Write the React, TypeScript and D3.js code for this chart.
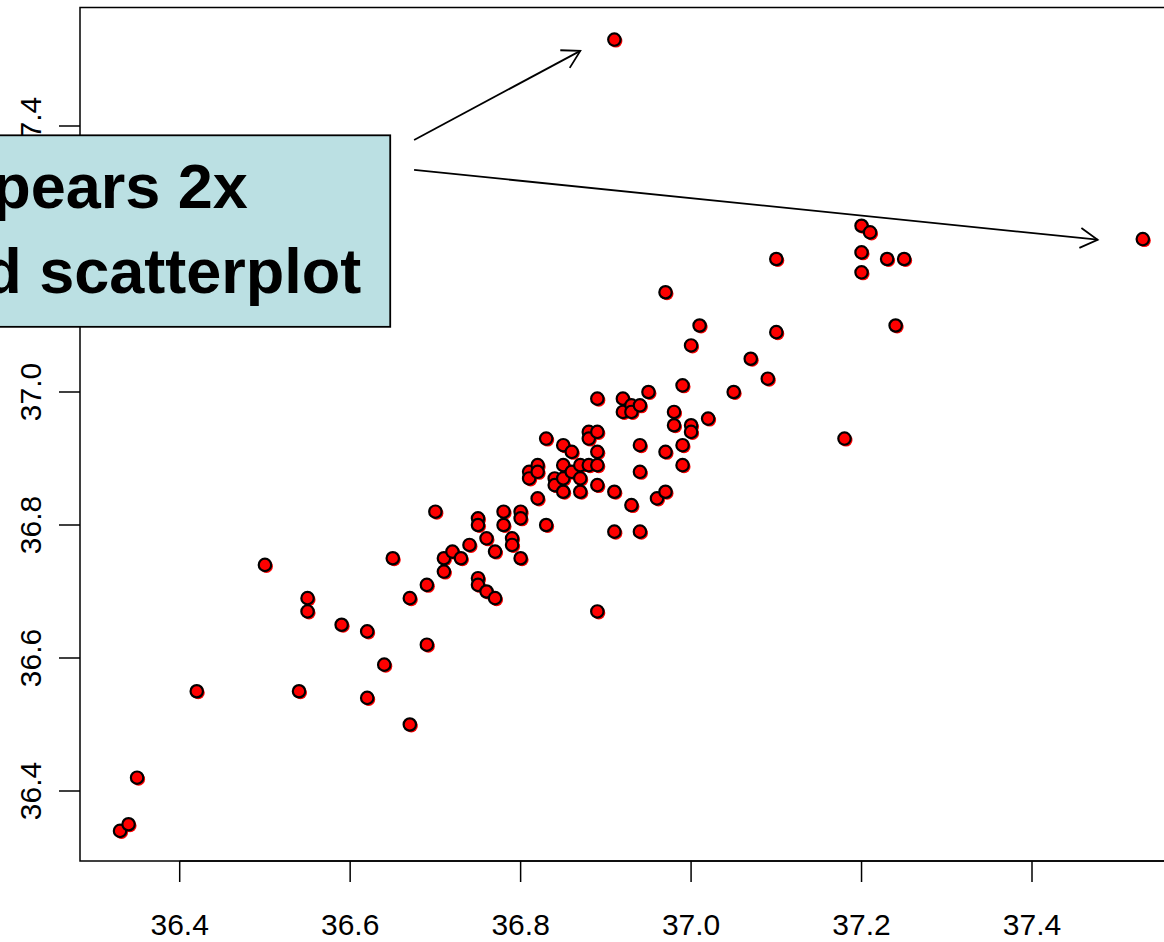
import React from 'react';
import * as d3 from 'd3';

const xVals = [
  36.33, 36.34, 36.35, 36.42, 36.5, 36.54, 36.55, 36.55, 36.59, 36.62, 36.62, 36.64, 36.65, 36.67, 36.67,
  36.69, 36.69, 36.7, 36.71, 36.71, 36.72, 36.73, 36.74, 36.75, 36.75, 36.75, 36.75, 36.76, 36.76, 36.77,
  36.77, 36.78, 36.78, 36.79, 36.79, 36.8, 36.8, 36.8, 36.81, 36.81, 36.82, 36.82, 36.82, 36.83, 36.83,
  36.84, 36.84, 36.85, 36.85, 36.85, 36.85, 36.86, 36.86, 36.87, 36.87, 36.87, 36.88, 36.88, 36.88, 36.89,
  36.89, 36.89, 36.89, 36.89, 36.89, 36.91, 36.91, 36.91, 36.92, 36.92, 36.93, 36.93, 36.93, 36.94, 36.94,
  36.94, 36.94, 36.95, 36.96, 36.97, 36.97, 36.97, 36.98, 36.98, 36.99, 36.99, 36.99, 37.0, 37.0, 37.0,
  37.01, 37.02, 37.05, 37.07, 37.09, 37.1, 37.1, 37.18, 37.2, 37.2, 37.2, 37.21, 37.23, 37.24, 37.25, 37.53,
];
const yVals = [
  36.34, 36.35, 36.42, 36.55, 36.74, 36.55, 36.69, 36.67, 36.65, 36.64, 36.54, 36.59, 36.75, 36.69, 36.5,
  36.71, 36.62, 36.82, 36.75, 36.73, 36.76, 36.75, 36.77, 36.81, 36.8, 36.72, 36.71, 36.78, 36.7, 36.76,
  36.69, 36.82, 36.8, 36.78, 36.77, 36.82, 36.81, 36.75, 36.88, 36.87, 36.89, 36.88, 36.84, 36.93, 36.8,
  36.87, 36.86, 36.92, 36.89, 36.87, 36.85, 36.91, 36.88, 36.89, 36.87, 36.85, 36.94, 36.93, 36.89, 36.99,
  36.94, 36.91, 36.89, 36.86, 36.67, 36.85, 36.79, 37.53, 36.99, 36.97, 36.98, 36.97, 36.83, 36.98, 36.92,
  36.88, 36.79, 37.0, 36.84, 37.15, 36.91, 36.85, 36.97, 36.95, 37.01, 36.92, 36.89, 37.07, 36.95, 36.94,
  37.1, 36.96, 37.0, 37.05, 37.02, 37.2, 37.09, 36.93, 37.25, 37.21, 37.18, 37.24, 37.2, 37.1, 37.2, 37.23,
];

const xTicks = [36.4, 36.6, 36.8, 37.0, 37.2, 37.4];
const yTicks = [36.4, 36.6, 36.8, 37.0, 37.2, 37.4];

// annotation (data units)
const noteLines = ['The outlier appears 2x', 'in the paired scatterplot'];
const noteBox = { x0: 36.16, x1: 36.647, y0: 37.386, y1: 37.098 };
const noteRight = [36.48, 36.613];
const noteBase = [37.277, 37.149];
const arrows = [
  { from: [36.675, 37.379], to: [36.87, 37.513] },
  { from: [36.675, 37.334], to: [37.477, 37.229] },
];

const W = 1164;
const H = 942;
const font = '"Liberation Sans", Arial, Helvetica, sans-serif';

const x = d3.scaleLinear().domain([36.4, 37.4]).range([179.7, 1032]);
const y = d3.scaleLinear().domain([36.4, 37.4]).range([791, 126]);

function arrowHead(x1: number, y1: number, x2: number, y2: number, len = 20, ang = Math.PI / 6) {
  const a = Math.atan2(y2 - y1, x2 - x1);
  const p1 = [x2 - len * Math.cos(a - ang), y2 - len * Math.sin(a - ang)];
  const p2 = [x2 - len * Math.cos(a + ang), y2 - len * Math.sin(a + ang)];
  return `M${p1[0]},${p1[1]}L${x2},${y2}L${p2[0]},${p2[1]}`;
}

export default function App() {
  const top = 7.5;
  const bottom = 861;
  const left = 80;
  const pts = xVals.map((v, i) => ({ x: v, y: yVals[i] }));

  return (
    <svg
      width={W}
      height={H}
      style={{ position: 'absolute', left: 0, top: 0, background: '#fff' }}
      fontFamily={font}
    >
      {/* frame */}
      <rect x={left} y={top} width={W + 20 - left} height={bottom - top} fill="none" stroke="#000" strokeWidth={1.5} />

      {/* x axis */}
      <line x1={x(36.4)} x2={W + 10} y1={bottom} y2={bottom} stroke="#000" strokeWidth={1.5} />
      {xTicks.map(t => (
        <g key={'xt' + t}>
          <line x1={x(t)} x2={x(t)} y1={bottom} y2={bottom + 21} stroke="#000" strokeWidth={1.5} />
          <text x={x(t)} y={935} textAnchor="middle" fontSize={30}>{t.toFixed(1)}</text>
        </g>
      ))}

      {/* y axis */}
      {yTicks.map(t => (
        <g key={'yt' + t}>
          <line x1={left - 21} x2={left} y1={y(t)} y2={y(t)} stroke="#000" strokeWidth={1.5} />
          <text
            transform={`translate(41,${y(t)}) rotate(-90)`}
            textAnchor="middle"
            fontSize={30}
          >{t.toFixed(1)}</text>
        </g>
      ))}

      {/* points */}
      <g>
        {pts.map((d, i) => (
          <circle key={'s' + i} cx={x(d.x) + 1.5} cy={y(d.y) + 1.5} r={6.5} fill="#ff0000" />
        ))}
        {pts.map((d, i) => (
          <circle key={'p' + i} cx={x(d.x)} cy={y(d.y)} r={6.2} fill="#ff0000" stroke="#000" strokeWidth={2.2} />
        ))}
      </g>

      {/* arrows */}
      {arrows.map((a, i) => {
        const x1 = x(a.from[0]), y1 = y(a.from[1]), x2 = x(a.to[0]), y2 = y(a.to[1]);
        return (
          <g key={'a' + i} stroke="#000" strokeWidth={1.8} fill="none">
            <line x1={x1} y1={y1} x2={x2} y2={y2} />
            <path d={arrowHead(x1, y1, x2, y2)} />
          </g>
        );
      })}

      {/* note box */}
      <rect
        x={x(noteBox.x0)}
        y={y(noteBox.y0)}
        width={x(noteBox.x1) - x(noteBox.x0)}
        height={y(noteBox.y1) - y(noteBox.y0)}
        fill="#bbe0e3"
        stroke="#000"
        strokeWidth={1.8}
      />
      {noteLines.map((s, i) => (
        <text
          key={'n' + i}
          x={x(noteRight[i])}
          y={y(noteBase[i])}
          textAnchor="end"
          fontSize={63}
          fontWeight="bold"
        >{s}</text>
      ))}
    </svg>
  );
}
